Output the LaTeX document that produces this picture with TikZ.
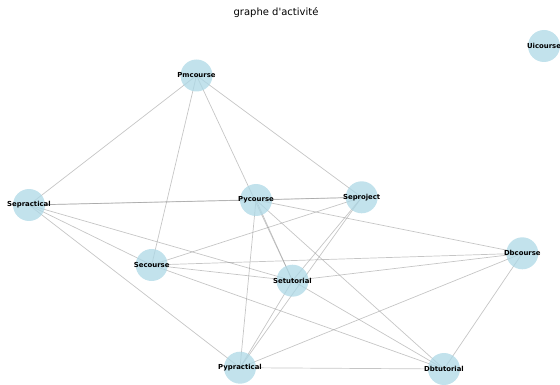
\documentclass[tikz,border=0pt]{standalone}
\usepackage{fontspec}
\setmainfont{DejaVu Sans}[Ligatures=TeXOff]
\usetikzlibrary{backgrounds}
\definecolor{nodefill}{RGB}{173,216,230}
\definecolor{edgegray}{RGB}{150,150,150}
\tikzset{
  course/.style={circle, fill=nodefill, fill opacity=0.75, draw=none,
    minimum size=32pt, inner sep=0pt,
    label={[text opacity=1, font=\fontsize{6.9}{7}\selectfont\bfseries]center:#1}},
  link/.style={draw=edgegray, opacity=0.55, line width=0.7pt},
}
\begin{document}
\begin{tikzpicture}[x=1pt, y=-1pt]
\useasboundingbox (0,0) rectangle (560,385);
\node[font=\fontsize{10}{12}\selectfont] (title) at (276,13) {graphe d'activité};

\node[course=Pmcourse]    (pm)  at (196.5,75.5) {};
\node[course=Uicourse]    (ui)  at (544,46) {};
\node[course=Sepractical] (sep) at (29,205) {};
\node[course=Pycourse]    (pyc) at (256,200) {};
\node[course=Seproject]   (spj) at (361.7,197.3) {};
\node[course=Dbcourse]    (dbc) at (522.3,253.3) {};
\node[course=Secourse]    (sec) at (151.7,265) {};
\node[course=Setutorial]  (set) at (292.5,280.7) {};
\node[course=Pypractical] (pyp) at (240,367.7) {};
\node[course=Dbtutorial]  (dbt) at (444,369) {};

\begin{scope}[on background layer]
\foreach \a/\b in {pm/sep, pm/sec, pm/set, pm/spj,
  sep/pyc, sep/spj, sep/sec, sep/set, sep/pyp,
  pyc/spj, pyc/set, pyc/dbc, pyc/dbt, pyc/pyp,
  spj/sec, spj/set, spj/pyp,
  sec/set, sec/dbc, sec/dbt,
  set/dbc, set/pyp, set/dbt,
  dbc/pyp, dbc/dbt, pyp/dbt}
  \draw[link] (\a.center) -- (\b.center);
\end{scope}
\end{tikzpicture}
\end{document}
